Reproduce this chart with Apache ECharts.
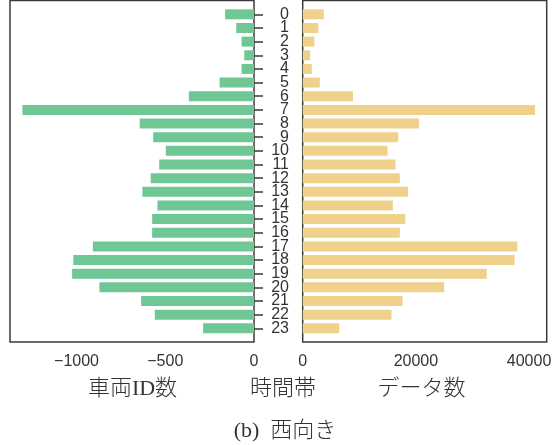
<!DOCTYPE html>
<html>
<head>
<meta charset="utf-8">
<script src="https://cdn.jsdelivr.net/npm/echarts@6/dist/echarts.min.js"></script>
<style>
  html, body { margin: 0; padding: 0; background: #fff; }
  #chart { width: 559px; height: 445px; }
</style>
</head>
<body>
<div id="chart"></div>
<script>
// Hours of the day (time band)
const hours = ['0','1','2','3','4','5','6','7','8','9','10','11','12','13','14','15','16','17','18','19','20','21','22','23'];

// Number of distinct vehicle IDs per hour (drawn to the left)
const vehicleCounts = [163, 100, 70, 55, 70, 194, 367, 1305, 644, 568, 497, 534, 582, 629, 544, 574, 574, 908, 1018, 1025, 871, 636, 559, 287];

// Number of data records per hour (drawn to the right)
const recordCounts = [3730, 2770, 2060, 1300, 1600, 3020, 8890, 41070, 20550, 16890, 14990, 16410, 17170, 18600, 15930, 18130, 17170, 37920, 37440, 32530, 25000, 17650, 15700, 6450];

// Tick labels of the two value axes
const leftTicks = [-1000, -500, 0];
const rightTicks = [0, 20000, 40000];

const leftMin = -1375;
const rightMax = 43120;

const GREEN = '#6ec795';
const YELLOW = '#f0d18b';
const INK = '#333333';
const FRAME = '#3a3a3a';

const tickFont = { fontFamily: '"Liberation Sans", Arial, sans-serif', fontSize: 16, color: INK };
const jpFont = '"Liberation Serif", "Noto Sans CJK JP", serif';
const plainNumber = v => (v < 0 ? '\u2212' + Math.abs(v) : String(v));

const chart = echarts.init(document.getElementById('chart'), null, { renderer: 'canvas' });

const frameTop = 0.5, frameH = 341.5;
const bandTop = 7.5, bandH = 327.6;
const leftX = 10, rightX = 302.7, panelW = 244;

const hiddenAxis = (type, idx) => ({ type, gridIndex: idx, show: false });

chart.setOption({
  animation: false,
  backgroundColor: '#ffffff',
  grid: [
    // panel frames
    { left: leftX, top: frameTop, width: panelW, height: frameH, show: true, borderColor: FRAME, borderWidth: 1.5, backgroundColor: 'transparent' },
    { left: rightX, top: frameTop, width: panelW, height: frameH, show: true, borderColor: FRAME, borderWidth: 1.5, backgroundColor: 'transparent' },
    // bar areas
    { left: leftX, top: bandTop, width: panelW, height: bandH },
    { left: rightX, top: bandTop, width: panelW, height: bandH }
  ],
  xAxis: [
    hiddenAxis('value', 0),
    hiddenAxis('value', 1),
    {
      type: 'value', gridIndex: 2, min: leftMin, max: 0, offset: 7,
      axisLine: { show: false }, axisTick: { show: false }, splitLine: { show: false },
      axisLabel: Object.assign({ customValues: leftTicks, margin: 11, formatter: plainNumber }, tickFont)
    },
    {
      type: 'value', gridIndex: 3, min: 0, max: rightMax, offset: 7,
      axisLine: { show: false }, axisTick: { show: false }, splitLine: { show: false },
      axisLabel: Object.assign({ customValues: rightTicks, margin: 11, formatter: plainNumber }, tickFont)
    }
  ],
  yAxis: [
    hiddenAxis('value', 0),
    hiddenAxis('value', 1),
    {
      type: 'category', gridIndex: 2, data: hours, inverse: true, position: 'right',
      axisLine: { show: false },
      axisTick: { show: true, alignWithLabel: true, length: 9, lineStyle: { color: FRAME, width: 1.5 } },
      axisLabel: Object.assign({ align: 'right', margin: 35, interval: 0 }, tickFont)
    },
    {
      type: 'category', gridIndex: 3, data: hours, inverse: true,
      axisLine: { show: false }, axisTick: { show: false }, axisLabel: { show: false }
    }
  ],
  series: [
    {
      type: 'bar', xAxisIndex: 2, yAxisIndex: 2, barWidth: 10,
      data: vehicleCounts.map(v => -v),
      itemStyle: { color: GREEN }
    },
    {
      type: 'bar', xAxisIndex: 3, yAxisIndex: 3, barWidth: 10,
      data: recordCounts,
      itemStyle: { color: YELLOW }
    }
  ],
  graphic: [
    { type: 'text', style: { x: 132.5, y: 389, text: '車両ID数', fill: INK, font: '300 22px ' + jpFont, textAlign: 'center', textVerticalAlign: 'middle' } },
    { type: 'text', style: { x: 283, y: 389, text: '時間帯', fill: INK, font: '300 22px ' + jpFont, textAlign: 'center', textVerticalAlign: 'middle' } },
    { type: 'text', style: { x: 421.5, y: 389, text: 'データ数', fill: INK, font: '300 22px ' + jpFont, textAlign: 'center', textVerticalAlign: 'middle' } },
    { type: 'text', style: { x: 285, y: 431, text: '(b)  西向き', fill: INK, font: '300 22px ' + jpFont, textAlign: 'center', textVerticalAlign: 'middle' } }
  ]
});
</script>
</body>
</html>
